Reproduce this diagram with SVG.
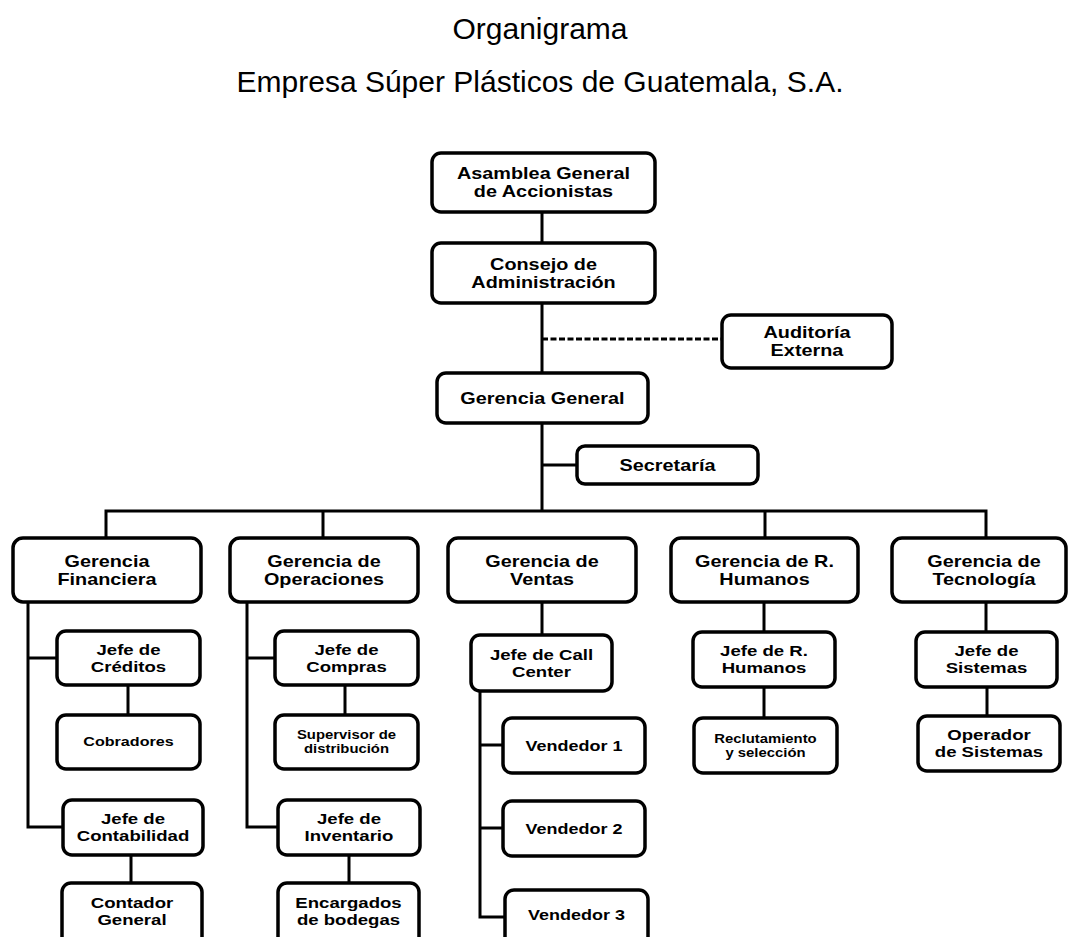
<svg xmlns="http://www.w3.org/2000/svg" width="1070" height="937" viewBox="0 0 1070 937">
<style>
.box{fill:#fff;stroke:#000;stroke-width:3.5}
.ln{fill:none;stroke:#000;stroke-width:3}
.dash{fill:none;stroke:#000;stroke-width:3;stroke-dasharray:6 2.5}
text{font-family:"Liberation Sans",Arial,sans-serif;text-anchor:middle;fill:#000}
.t{font-size:30px}
.b16{font-size:16px;font-weight:bold}
.b15{font-size:15px;font-weight:bold}
.b145{font-size:14.5px;font-weight:bold}
.b13{font-size:13px;font-weight:bold}
.b12{font-size:12px;font-weight:bold}
</style>
<rect width="1070" height="937" fill="#fff"/>
<g id="title">
<text class="t" x="540" y="39">Organigrama</text>
<text class="t" x="540" y="92">Empresa Súper Plásticos de Guatemala, S.A.</text>
</g>
<g id="connectors">
<path class="ln" d="M542 212V511"/>
<path class="dash" d="M542 339H722"/>
<path class="ln" d="M542 465H577"/>
<path class="ln" d="M106 538V511H986V538M323 511V538M765 511V538"/>
<path class="ln" d="M28 602V827H63M28 658H57M128 685V715M131 855V883"/>
<path class="ln" d="M247 602V827H278M247 658H275M345 685V715M349 855V883"/>
<path class="ln" d="M542 602V635M480 691V917H505M480 745H503M480 828H503"/>
<path class="ln" d="M764 602V632M764 687V718"/>
<path class="ln" d="M986 602V632M987 687V716"/>
</g>
<g id="asamblea"><rect class="box" x="432" y="153" width="223" height="59" rx="9"/>
<text class="b16" transform="translate(543.5,0) scale(1.24,1)"><tspan x="0" y="179.1">Asamblea General</tspan><tspan x="0" y="197.1">de Accionistas</tspan></text></g>
<g id="consejo"><rect class="box" x="432" y="243" width="223" height="60" rx="9"/>
<text class="b16" transform="translate(543.5,0) scale(1.24,1)"><tspan x="0" y="269.6">Consejo de</tspan><tspan x="0" y="287.6">Administración</tspan></text></g>
<g id="auditoria"><rect class="box" x="722" y="315" width="170" height="53" rx="9"/>
<text class="b16" transform="translate(807,0) scale(1.24,1)"><tspan x="0" y="338.1">Auditoría</tspan><tspan x="0" y="356.1">Externa</tspan></text></g>
<g id="gerencia-general"><rect class="box" x="437" y="373" width="211" height="50" rx="9"/>
<text class="b16" transform="translate(542.5,0) scale(1.24,1)" x="0" y="403.6">Gerencia General</text></g>
<g id="secretaria"><rect class="box" x="577" y="446" width="181" height="38" rx="8"/>
<text class="b16" transform="translate(667.5,0) scale(1.24,1)" x="0" y="470.6">Secretaría</text></g>
<g id="gerencia-financiera"><rect class="box" x="13" y="538" width="188" height="64" rx="10"/>
<text class="b16" transform="translate(107,0) scale(1.24,1)"><tspan x="0" y="566.6">Gerencia</tspan><tspan x="0" y="584.6">Financiera</tspan></text></g>
<g id="gerencia-operaciones"><rect class="box" x="230" y="538" width="188" height="64" rx="10"/>
<text class="b16" transform="translate(324,0) scale(1.24,1)"><tspan x="0" y="566.6">Gerencia de</tspan><tspan x="0" y="584.6">Operaciones</tspan></text></g>
<g id="gerencia-ventas"><rect class="box" x="448" y="538" width="188" height="64" rx="10"/>
<text class="b16" transform="translate(542,0) scale(1.24,1)"><tspan x="0" y="566.6">Gerencia de</tspan><tspan x="0" y="584.6">Ventas</tspan></text></g>
<g id="gerencia-rrhh"><rect class="box" x="671" y="538" width="187" height="64" rx="10"/>
<text class="b16" transform="translate(764.5,0) scale(1.24,1)"><tspan x="0" y="566.6">Gerencia de R.</tspan><tspan x="0" y="584.6">Humanos</tspan></text></g>
<g id="gerencia-tecnologia"><rect class="box" x="892" y="538" width="174" height="64" rx="10"/>
<text class="b16" transform="translate(984,0) scale(1.24,1)"><tspan x="0" y="566.6">Gerencia de</tspan><tspan x="0" y="584.6">Tecnología</tspan></text></g>
<g id="jefe-creditos"><rect class="box" x="57" y="631" width="143" height="54" rx="9"/>
<text class="b15" transform="translate(128.5,0) scale(1.24,1)"><tspan x="0" y="654.75">Jefe de</tspan><tspan x="0" y="671.75">Créditos</tspan></text></g>
<g id="cobradores"><rect class="box" x="57" y="715" width="143" height="54" rx="9"/>
<text class="b13" transform="translate(128.5,0) scale(1.24,1)" x="0" y="746.5">Cobradores</text></g>
<g id="jefe-contabilidad"><rect class="box" x="63" y="800" width="140" height="55" rx="9"/>
<text class="b15" transform="translate(133,0) scale(1.24,1)"><tspan x="0" y="824.25">Jefe de</tspan><tspan x="0" y="841.25">Contabilidad</tspan></text></g>
<g id="contador-general"><rect class="box" x="62" y="883" width="140" height="70" rx="9"/>
<text class="b15" transform="translate(132,0) scale(1.24,1)"><tspan x="0" y="908">Contador</tspan><tspan x="0" y="925">General</tspan></text></g>
<g id="jefe-compras"><rect class="box" x="275" y="631" width="143" height="54" rx="9"/>
<text class="b15" transform="translate(346.5,0) scale(1.24,1)"><tspan x="0" y="654.75">Jefe de</tspan><tspan x="0" y="671.75">Compras</tspan></text></g>
<g id="supervisor"><rect class="box" x="275" y="715" width="143" height="54" rx="9"/>
<text class="b12" transform="translate(346.5,0) scale(1.24,1)"><tspan x="0" y="739.2">Supervisor de</tspan><tspan x="0" y="753.2">distribución</tspan></text></g>
<g id="jefe-inventario"><rect class="box" x="278" y="800" width="142" height="55" rx="9"/>
<text class="b15" transform="translate(349,0) scale(1.24,1)"><tspan x="0" y="824.25">Jefe de</tspan><tspan x="0" y="841.25">Inventario</tspan></text></g>
<g id="encargados"><rect class="box" x="278" y="883" width="141" height="70" rx="9"/>
<text class="b15" transform="translate(348.5,0) scale(1.24,1)"><tspan x="0" y="908">Encargados</tspan><tspan x="0" y="925">de bodegas</tspan></text></g>
<g id="jefe-call-center"><rect class="box" x="471" y="635" width="141" height="56" rx="9"/>
<text class="b15" transform="translate(541.5,0) scale(1.24,1)"><tspan x="0" y="659.75">Jefe de Call</tspan><tspan x="0" y="676.75">Center</tspan></text></g>
<g id="vendedor-1"><rect class="box" x="503" y="718" width="142" height="55" rx="9"/>
<text class="b145" transform="translate(574,0) scale(1.24,1)" x="0" y="750.6">Vendedor 1</text></g>
<g id="vendedor-2"><rect class="box" x="503" y="801" width="142" height="55" rx="9"/>
<text class="b145" transform="translate(574,0) scale(1.24,1)" x="0" y="833.6">Vendedor 2</text></g>
<g id="vendedor-3"><rect class="box" x="505" y="890" width="143" height="65" rx="9"/>
<text class="b145" transform="translate(576.5,0) scale(1.24,1)" x="0" y="920">Vendedor 3</text></g>
<g id="jefe-rrhh"><rect class="box" x="693" y="632" width="142" height="55" rx="9"/>
<text class="b15" transform="translate(764,0) scale(1.24,1)"><tspan x="0" y="656.25">Jefe de R.</tspan><tspan x="0" y="673.25">Humanos</tspan></text></g>
<g id="reclutamiento"><rect class="box" x="694" y="718" width="143" height="55" rx="9"/>
<text class="b12" transform="translate(765.5,0) scale(1.24,1)"><tspan x="0" y="742.7">Reclutamiento</tspan><tspan x="0" y="756.7">y selección</tspan></text></g>
<g id="jefe-sistemas"><rect class="box" x="916" y="632" width="141" height="55" rx="9"/>
<text class="b15" transform="translate(986.5,0) scale(1.24,1)"><tspan x="0" y="656.25">Jefe de</tspan><tspan x="0" y="673.25">Sistemas</tspan></text></g>
<g id="operador-sistemas"><rect class="box" x="918" y="716" width="142" height="55" rx="9"/>
<text class="b15" transform="translate(989,0) scale(1.24,1)"><tspan x="0" y="740.25">Operador</tspan><tspan x="0" y="757.25">de Sistemas</tspan></text></g>
</svg>
